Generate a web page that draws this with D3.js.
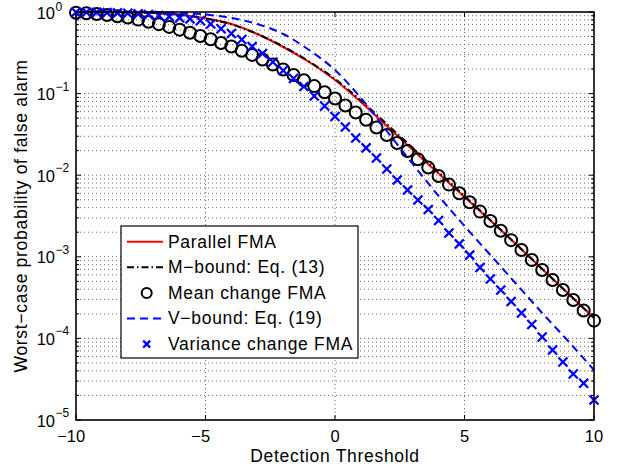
<!DOCTYPE html>
<html>
<head>
<meta charset="utf-8">
<script src="https://d3js.org/d3.v7.min.js"></script>
<style>
  body { margin: 0; background: #fff; }
  svg { font-family: "Liberation Sans", Arial, Helvetica, sans-serif; }
</style>
</head>
<body>
<svg id="svg" width="620" height="469"></svg>
<script>
// thresholds: analytic curves every 1, simulated points every 0.4
var lineThresholds = [-10,-9,-8,-7,-6,-5,-4,-3,-2,-1,0,1,2,3,4,5,6,7,8,9,10];
var markerThresholds = [-10,-9.6,-9.2,-8.8,-8.4,-8,-7.6,-7.2,-6.8,-6.4,-6,-5.6,-5.2,-4.8,-4.4,-4,-3.6,-3.2,-2.8,-2.4,
                        -2,-1.6,-1.2,-0.8,-0.4,0,0.4,0.8,1.2,1.6,2,2.4,2.8,3.2,3.6,4,4.4,4.8,5.2,5.6,
                        6,6.4,6.8,7.2,7.6,8,8.4,8.8,9.2,9.6,10];

var parallelFMA = [1.0,0.9986,0.9916,0.9722,0.924,0.837,0.713,0.5375,0.3725,0.2439,0.1468,0.0789,0.0401,0.02037,
                   0.01049,0.00541,0.00279,0.001415,0.000709,0.000355,0.000178];
var mBound = [1.0,0.9986,0.9916,0.9722,0.924,0.832,0.703,0.5375,0.3778,0.2473,0.1510,0.0823,0.0424,0.02154,
              0.01094,0.00556,0.002825,0.001423,0.000709,0.000355,0.000178];
var vBound = [1.0,1.0,1.0,0.9944,0.9777,0.932,0.844,0.713,0.5375,0.342,0.1946,0.0883,0.0348,0.01372,
              0.00556,0.002385,0.001052,0.000464,0.000205,0.0000929,0.0000410];

var meanChangeFMA = [0.980,0.963,0.946,0.920,0.888,0.856,0.807,0.760,0.710,0.657,0.608,0.557,0.509,0.463,0.417,
                     0.377,0.335,0.298,0.262,0.227,0.197,0.169,0.1456,0.1236,0.1037,0.0871,0.0715,0.0586,0.0477,
                     0.0385,0.0311,0.0248,0.0198,0.0157,0.0124,0.00977,0.00767,0.00602,0.00467,0.00358,0.00275,
                     0.00209,0.00160,0.00121,0.000914,0.000689,0.000520,0.000392,0.000295,0.000220,0.000165];
var varianceChangeFMA = [0.9944,0.9915,0.9888,0.983,0.975,0.964,0.948,0.929,0.906,0.878,0.847,0.825,0.780,0.713,
                         0.623,0.545,0.460,0.378,0.310,0.244,0.192,0.153,0.122,0.0935,0.0705,0.0524,0.0390,0.0286,
                         0.0216,0.01625,0.0119,0.00873,0.00659,0.00497,0.00380,0.00279,0.00196,0.00144,0.00105,
                         0.000740,0.000535,0.000392,0.000283,0.000205,0.000148,0.000104,0.0000721,0.0000514,
                         0.0000366,0.0000282,0.0000176];

var xTicks = [-10,-5,0,5,10];
var yDecades = [-5,-4,-3,-2,-1,0];
var legendLabels = ["Parallel FMA","M\u2212bound: Eq. (13)","Mean change FMA","V\u2212bound: Eq. (19)","Variance change FMA"];

var svg = d3.select("svg");
var pL = 76, pR = 594, pT = 12, pB = 420;
var x = d3.scaleLinear().domain([-10,10]).range([pL,pR]);
var y = d3.scaleLog().domain([1e-5,1]).range([pB,pT]);

svg.append("rect").attr("width",620).attr("height",469).attr("fill","#fff");

// dotted grid
var grid = svg.append("g").attr("stroke","#444").attr("stroke-width",0.8).attr("stroke-dasharray","1,3");
y.ticks().forEach(function(v){
    if (v >= 1 || v <= 1e-5) return;
    grid.append("line").attr("x1",pL).attr("x2",pR).attr("y1",y(v)).attr("y2",y(v));
});
xTicks.forEach(function(t){
    if (t === -10 || t === 10) return;
    grid.append("line").attr("x1",x(t)).attr("x2",x(t)).attr("y1",pT).attr("y2",pB);
});

// ticks inside on all sides
var tk = svg.append("g").attr("stroke","#000").attr("stroke-width",1);
y.ticks().forEach(function(v){
    var major = Math.abs(Math.log10(v) - Math.round(Math.log10(v))) < 1e-9;
    var len = major ? 5 : 3;
    tk.append("line").attr("x1",pL).attr("x2",pL+len).attr("y1",y(v)).attr("y2",y(v));
    tk.append("line").attr("x1",pR).attr("x2",pR-len).attr("y1",y(v)).attr("y2",y(v));
});
xTicks.forEach(function(t){
    tk.append("line").attr("x1",x(t)).attr("x2",x(t)).attr("y1",pB).attr("y2",pB-5);
    tk.append("line").attr("x1",x(t)).attr("x2",x(t)).attr("y1",pT).attr("y2",pT+5);
});

// series
var line = function(xs, ys){
    return d3.line().x(function(d,i){ return x(xs[i]); }).y(function(d){ return y(d); })
             .curve(d3.curveMonotoneX)(ys);
};
var plot = svg.append("g");
plot.append("path").attr("d",line(lineThresholds,parallelFMA))
    .attr("fill","none").attr("stroke","#ff0000").attr("stroke-width",2);
plot.append("path").attr("d",line(lineThresholds,mBound))
    .attr("fill","none").attr("stroke","#000").attr("stroke-width",2).attr("stroke-dasharray","7,3,1.5,3");
plot.selectAll("circle.mean").data(meanChangeFMA).enter().append("circle")
    .attr("cx",function(d,i){ return x(markerThresholds[i]); })
    .attr("cy",function(d){ return y(d); })
    .attr("r",6).attr("fill","none").attr("stroke","#000").attr("stroke-width",2);
plot.append("path").attr("d",line(lineThresholds,vBound))
    .attr("fill","none").attr("stroke","#0000ff").attr("stroke-width",2).attr("stroke-dasharray","8,5");
var cs = 4.5;
plot.selectAll("path.var").data(varianceChangeFMA).enter().append("path")
    .attr("d",function(d,i){
        var cx = x(markerThresholds[i]), cy = y(d);
        return "M"+(cx-cs)+","+(cy-cs)+"L"+(cx+cs)+","+(cy+cs)+"M"+(cx-cs)+","+(cy+cs)+"L"+(cx+cs)+","+(cy-cs);
    })
    .attr("stroke","#0000ff").attr("stroke-width",2.3).attr("fill","none");

// frame
svg.append("rect").attr("x",pL).attr("y",pT).attr("width",pR-pL).attr("height",pB-pT)
    .attr("fill","none").attr("stroke","#000").attr("stroke-width",1.6);

// x tick labels: digits centred on the tick, minus hangs left
xTicks.forEach(function(t){
    var digits = svg.append("text").attr("x",x(t)).attr("y",442).attr("text-anchor","middle")
        .attr("font-size",16.5).text(String(Math.abs(t)));
    if (t < 0) {
        var w = digits.node().getComputedTextLength();
        svg.append("text").attr("x",x(t)-w/2).attr("y",442).attr("text-anchor","end")
            .attr("font-size",16.5).text("\u2212");
    }
});

// y tick labels 10^k
yDecades.forEach(function(d){
    var yy = y(Math.pow(10,d));
    svg.append("text").attr("x",55).attr("y",yy+6.5).attr("text-anchor","end")
        .attr("font-size",16.5).text("10");
    svg.append("text").attr("x",55.5).attr("y",d === 0 ? yy-1.5 : yy-3).attr("text-anchor","start")
        .attr("font-size",12).text(d === 0 ? "0" : "\u2212" + (-d));
});

// axis titles
svg.append("text").attr("x",(pL+pR)/2).attr("y",462).attr("text-anchor","middle")
    .attr("font-size",17.5).attr("letter-spacing",0.7).text("Detection Threshold");
svg.append("text").attr("transform","translate(27,"+((pT+pB)/2)+") rotate(-90)")
    .attr("text-anchor","middle").attr("font-size",17.5).attr("letter-spacing",0.7)
    .text("Worst\u2212case probability of false alarm");

// legend
var lg = svg.append("g");
lg.append("rect").attr("x",121).attr("y",226).attr("width",237).attr("height",132)
    .attr("fill","#fff").attr("stroke","#000").attr("stroke-width",1.2);
legendLabels.forEach(function(lab,i){
    var cy = 241.7 + i*25.6;
    if (i === 0) lg.append("line").attr("x1",127).attr("x2",163).attr("y1",cy).attr("y2",cy)
        .attr("stroke","#ff0000").attr("stroke-width",2);
    if (i === 1) lg.append("line").attr("x1",127).attr("x2",163).attr("y1",cy).attr("y2",cy)
        .attr("stroke","#000").attr("stroke-width",2).attr("stroke-dasharray","7,3,1.5,3");
    if (i === 2) lg.append("circle").attr("cx",146.7).attr("cy",cy).attr("r",5)
        .attr("fill","none").attr("stroke","#000").attr("stroke-width",2);
    if (i === 3) lg.append("line").attr("x1",127).attr("x2",163).attr("y1",cy).attr("y2",cy)
        .attr("stroke","#0000ff").attr("stroke-width",2).attr("stroke-dasharray","8,5");
    if (i === 4) lg.append("path")
        .attr("d","M143.2,"+(cy-3.5)+"L150.2,"+(cy+3.5)+"M143.2,"+(cy+3.5)+"L150.2,"+(cy-3.5))
        .attr("stroke","#0000ff").attr("stroke-width",2.2);
    lg.append("text").attr("x",168).attr("y",cy+5.8).attr("font-size",17.5)
        .attr("letter-spacing",0.7).text(lab);
});
</script>
</body>
</html>
